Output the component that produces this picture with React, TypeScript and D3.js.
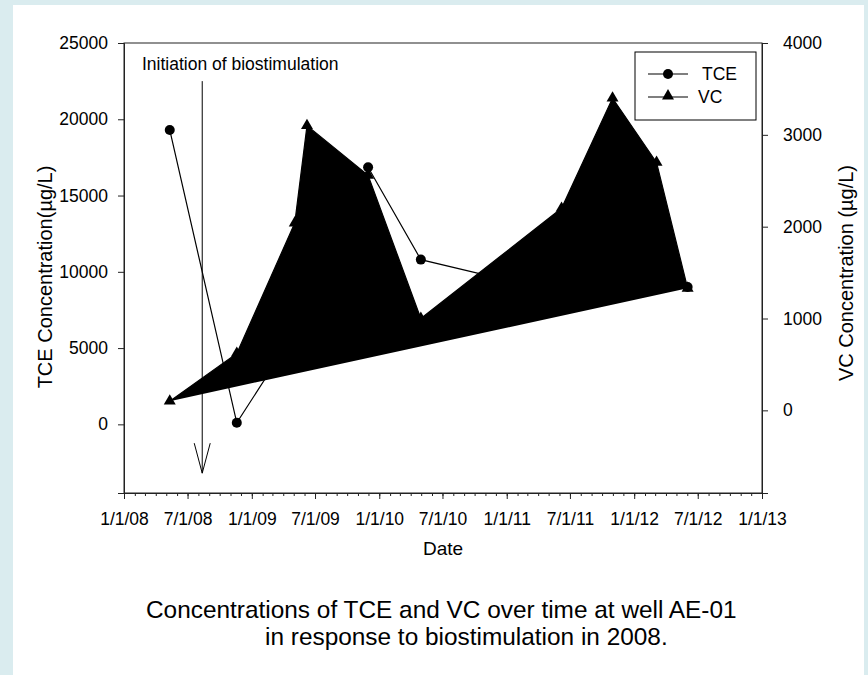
import React, { useEffect, useRef } from "react";
import * as d3 from "d3";

// sampling dates and concentrations
const tceDates = ["2008-05-11", "2008-11-19", "2009-05-04", "2009-11-30", "2010-04-30", "2011-06-07", "2012-06-02"];
const tceValues = [19300, 100, 6000, 16850, 10800, 8600, 9000];

const vcDates = [
  "2008-05-11", "2008-11-19", "2009-05-04", "2009-06-08", "2009-11-30",
  "2010-04-30", "2011-06-07", "2011-10-31", "2012-03-05", "2012-06-02",
];
const vcValues = [100, 620, 2040, 3100, 2560, 1000, 2200, 3400, 2700, 1330];

const leftTicks = [0, 5000, 10000, 15000, 20000, 25000];
const rightTicks = [0, 1000, 2000, 3000, 4000];

const initiationDate = "2008-08-12";
const FONT = "'Liberation Sans', Arial, sans-serif";

const App = () => {
  const svgRef = useRef<SVGSVGElement>(null);

  useEffect(() => {
    const svg = d3.select(svgRef.current);
    svg.selectAll("*").remove();

    const W = 868;
    const H = 675;
    const m = { left: 124, right: 762, top: 43, bottom: 493 };
    const parse = d3.timeParse("%Y-%m-%d");

    // page background + white panel
    svg.append("rect").attr("width", W).attr("height", H).attr("fill", "#daecef");
    svg.append("rect").attr("x", 13).attr("y", 5).attr("width", 851).attr("height", H).attr("fill", "#fff");

    const x = d3.scaleTime().domain([new Date(2008, 0, 1), new Date(2013, 0, 1)]).range([m.left, m.right]);
    const yL = d3.scaleLinear().domain([-4500, 25000]).range([m.bottom, m.top]);
    const yR = d3.scaleLinear().domain([-900, 4000]).range([m.bottom, m.top]);

    const tce = tceDates.map((d, i) => ({ date: parse(d), value: tceValues[i] }));
    const vc = vcDates.map((d, i) => ({ date: parse(d), value: vcValues[i] }));

    // frame
    svg.append("rect")
      .attr("x", m.left).attr("y", m.top)
      .attr("width", m.right - m.left).attr("height", m.bottom - m.top)
      .attr("fill", "none").attr("stroke", "#222").attr("stroke-width", 1);

    // left axis
    const gl = svg.append("g").attr("transform", `translate(${m.left},0)`)
      .call(d3.axisLeft(yL).tickValues(leftTicks).tickSize(6).tickPadding(10).tickFormat(d3.format("d")));
    // right axis
    const gr = svg.append("g").attr("transform", `translate(${m.right},0)`)
      .call(d3.axisRight(yR).tickValues(rightTicks).tickSize(6).tickPadding(15).tickFormat(d3.format("d")));
    // bottom axis: monthly minor ticks, 6-monthly labels
    const gbMinor = svg.append("g").attr("transform", `translate(0,${m.bottom})`)
      .call(d3.axisBottom(x).ticks(d3.timeMonth.every(1)).tickSize(3).tickFormat(() => ""));
    const gb = svg.append("g").attr("transform", `translate(0,${m.bottom})`)
      .call(d3.axisBottom(x).ticks(d3.timeMonth.every(6)).tickSize(6).tickPadding(14)
        .tickFormat((d: any) => d3.timeFormat("%-m/%-d/%y")(d)));

    [gl, gr, gb, gbMinor].forEach((g) => {
      g.select(".domain").attr("stroke", "#222");
      g.selectAll(".tick line").attr("stroke", "#222");
      g.selectAll("text").attr("font-family", FONT).attr("font-size", 17.5).attr("fill", "#000");
    });

    // TCE series
    const lineL = d3.line<any>().x((d) => x(d.date)).y((d) => yL(d.value));
    svg.append("path").datum(tce).attr("d", lineL).attr("fill", "none").attr("stroke", "#000").attr("stroke-width", 1.2);
    svg.selectAll(".tce").data(tce).enter().append("circle")
      .attr("cx", (d) => x(d.date)).attr("cy", (d) => yL(d.value)).attr("r", 5).attr("fill", "#000");

    // VC series (drawn filled, as in the original)
    const lineR = d3.line<any>().x((d) => x(d.date)).y((d) => yR(d.value));
    svg.append("path").datum(vc).attr("d", lineR).attr("fill", "#000").attr("stroke", "#000").attr("stroke-width", 1.2);
    const tri = d3.symbol().type(d3.symbolTriangle).size(62);
    svg.selectAll(".vc").data(vc).enter().append("path")
      .attr("d", tri).attr("fill", "#000")
      .attr("transform", (d) => `translate(${x(d.date)},${yR(d.value)})`);

    // initiation arrow
    const ax = x(parse(initiationDate));
    const top = yL(22500);
    const tip = yL(-3200);
    svg.append("line").attr("x1", ax).attr("x2", ax).attr("y1", top).attr("y2", tip).attr("stroke", "#000").attr("stroke-width", 1);
    svg.append("path")
      .attr("d", `M${ax - 8},${tip - 30}L${ax},${tip}L${ax + 8},${tip - 30}`)
      .attr("fill", "none").attr("stroke", "#000").attr("stroke-width", 1);
    svg.append("text").attr("x", 142).attr("y", 69.5)
      .attr("font-family", FONT).attr("font-size", 17.5).text("Initiation of biostimulation");

    // legend
    const lg = svg.append("g").attr("font-family", FONT).attr("font-size", 17.5);
    lg.append("rect").attr("x", 635).attr("y", 52).attr("width", 121).attr("height", 68)
      .attr("fill", "#fff").attr("stroke", "#000");
    lg.append("line").attr("x1", 648).attr("x2", 688).attr("y1", 74).attr("y2", 74).attr("stroke", "#000").attr("stroke-width", 1.2);
    lg.append("circle").attr("cx", 668).attr("cy", 74).attr("r", 5);
    lg.append("text").attr("x", 702).attr("y", 80).text("TCE");
    lg.append("line").attr("x1", 648).attr("x2", 688).attr("y1", 97).attr("y2", 97).attr("stroke", "#000").attr("stroke-width", 1.2);
    lg.append("path").attr("d", tri).attr("transform", "translate(668,96)");
    lg.append("text").attr("x", 698).attr("y", 103).text("VC");

    // axis titles
    svg.append("text").attr("transform", "translate(52,277) rotate(-90)").attr("text-anchor", "middle")
      .attr("font-family", FONT).attr("font-size", 20).text("TCE Concentration(\u00b5g/L)");
    svg.append("text").attr("transform", "translate(853,273) rotate(-90)").attr("text-anchor", "middle")
      .attr("font-family", FONT).attr("font-size", 20).text("VC Concentration (\u00b5g/L)");
    svg.append("text").attr("x", (m.left + m.right) / 2).attr("y", 555).attr("text-anchor", "middle")
      .attr("font-family", FONT).attr("font-size", 19).text("Date");

    // caption
    svg.append("text").attr("x", 146).attr("y", 618)
      .attr("font-family", FONT).attr("font-size", 24.4).text("Concentrations of TCE and VC over time at well AE-01");
    svg.append("text").attr("x", 265).attr("y", 645)
      .attr("font-family", FONT).attr("font-size", 24.4).text("in response to biostimulation in 2008.");
  }, []);

  return (
    <div style={{ position: "absolute", left: 0, top: 0 }}>
      <svg ref={svgRef} width={868} height={675} style={{ display: "block" }}></svg>
    </div>
  );
};

export default App;
